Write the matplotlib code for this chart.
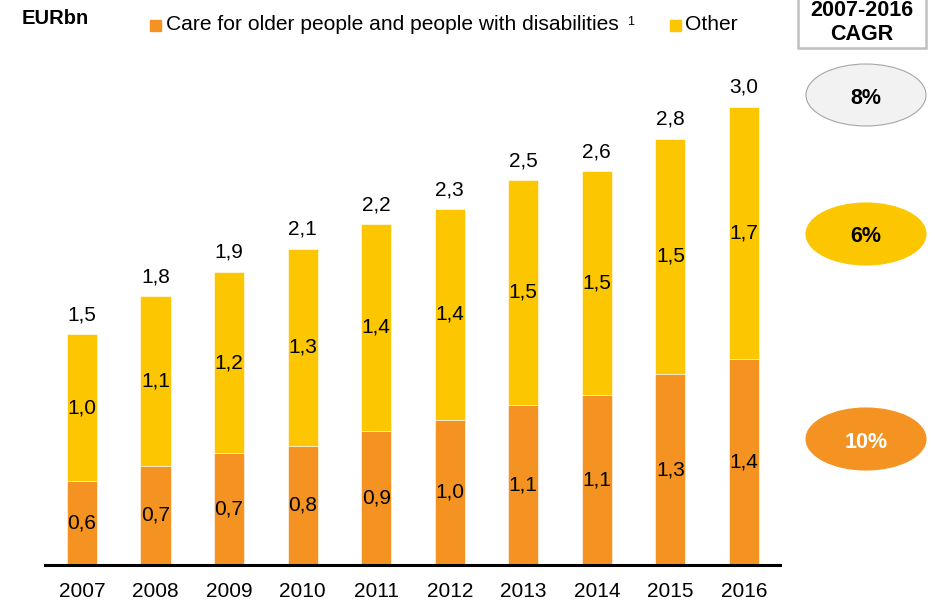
import matplotlib
matplotlib.use("Agg")
import numpy as np
from matplotlib import pyplot as plt
from matplotlib.patches import Ellipse, Rectangle

plt.rcParams["font.family"] = ["Liberation Sans", "DejaVu Sans"]

# ------------------------------------
# Data (EURbn)

years = ["2007", "2008", "2009", "2010", "2011", "2012", "2013", "2014", "2015", "2016"]
care = [0.55, 0.65, 0.73, 0.78, 0.88, 0.95, 1.05, 1.11, 1.25, 1.35]
other = [0.96, 1.11, 1.19, 1.29, 1.35, 1.38, 1.47, 1.47, 1.54, 1.65]

care_labels = ["0,6", "0,7", "0,7", "0,8", "0,9", "1,0", "1,1", "1,1", "1,3", "1,4"]
other_labels = ["1,0", "1,1", "1,2", "1,3", "1,4", "1,4", "1,5", "1,5", "1,5", "1,7"]
total_labels = ["1,5", "1,8", "1,9", "2,1", "2,2", "2,3", "2,5", "2,6", "2,8", "3,0"]

cagr_labels = ["8%", "6%", "10%"]

ORANGE = "#F59322"
YELLOW = "#FCC600"
GREY = "#F2F2F2"

# ------------------------------------
# Plot

W, H = 935, 600
fig = plt.figure(figsize=(W / 100, H / 100), dpi=100)

# axes placed in pixel terms: baseline at y=565, x from 45 to 780
ax = fig.add_axes([45 / W, (H - 565) / H, 735 / W, 534.8 / H])

x = np.arange(len(years))
care = np.array(care)
other = np.array(other)
total = care + other

ax.bar(x, care, width=0.41, color=ORANGE, edgecolor="white", linewidth=0.4)
ax.bar(x, other, width=0.41, bottom=care, color=YELLOW, edgecolor="white", linewidth=0.4)

for i in range(len(years)):
    ax.text(x[i], care[i] / 2, care_labels[i], ha="center", va="center", fontsize=15)
    ax.text(x[i], care[i] + other[i] / 2, other_labels[i], ha="center", va="center", fontsize=15)
    ax.annotate(total_labels[i], (x[i], total[i]), xytext=(0, 7),
                textcoords="offset points", ha="center", va="bottom", fontsize=15)

ax.set_xlim(-0.503, 9.49)
ax.set_ylim(0, 3.5)
ax.set_xticks(x)
ax.set_xticklabels(years, fontsize=15)
ax.tick_params(axis="x", length=0, pad=12)
ax.set_yticks([])
for side in ["top", "right", "left"]:
    ax.spines[side].set_visible(False)
ax.spines["bottom"].set_linewidth(2.2)

# ------------------------------------
# Header / legend

fig.text(22 / W, 1 - 18 / H, "EURbn", fontsize=14.5, fontweight="bold", va="center")

fig.patches.append(Rectangle((150 / W, 1 - 31 / H), 11 / W, 11 / H,
                             transform=fig.transFigure, color=ORANGE, figure=fig))
fig.text(166 / W, 1 - 25 / H, "Care for older people and people with disabilities",
         fontsize=15.1, va="center")
fig.text(627 / W, 1 - 22 / H, "1", fontsize=9, va="center")
fig.patches.append(Rectangle((670 / W, 1 - 31 / H), 11 / W, 11 / H,
                             transform=fig.transFigure, color=YELLOW, figure=fig))
fig.text(685 / W, 1 - 25 / H, "Other", fontsize=15.1, va="center")

# ------------------------------------
# CAGR panel

fig.patches.append(Rectangle((798 / W, 1 - 48 / H), 128 / W, 60 / H,
                             transform=fig.transFigure, facecolor="white",
                             edgecolor="#BFBFBF", linewidth=1.8, figure=fig))
fig.text(862 / W, 1 - 11 / H, "2007-2016", fontsize=15.5, fontweight="bold",
         ha="center", va="center")
fig.text(862 / W, 1 - 34 / H, "CAGR", fontsize=15.5, fontweight="bold",
         ha="center", va="center")

ell_y = [95, 234, 439]
ell_face = [GREY, YELLOW, ORANGE]
ell_edge = ["#A6A6A6", YELLOW, ORANGE]
ell_text = ["black", "black", "white"]
for lab, cy, fc, ec, tc in zip(cagr_labels, ell_y, ell_face, ell_edge, ell_text):
    fig.patches.append(Ellipse((866 / W, 1 - cy / H), 120 / W, 62 / H,
                               transform=fig.transFigure, facecolor=fc,
                               edgecolor=ec, linewidth=0.8, figure=fig))
    fig.text(866 / W, 1 - (cy + 3) / H, lab, fontsize=15.5, fontweight="bold",
             color=tc, ha="center", va="center")

plt.savefig("out.png", dpi=100)
